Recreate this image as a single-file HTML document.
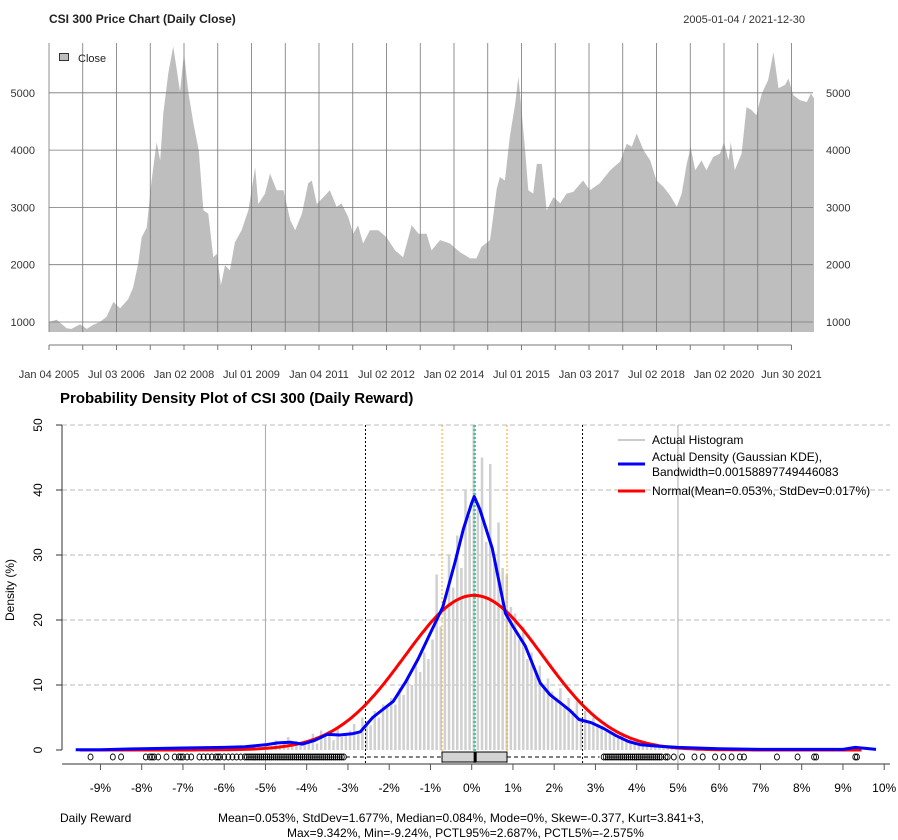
<!DOCTYPE html>
<html><head><meta charset="utf-8"><style>
body{margin:0;background:#fff;}
svg{display:block;font-family:"Liberation Sans",Arial,sans-serif;}
</style></head><body>
<svg id="c" width="898" height="840" viewBox="0 0 898 840">
<text x="49" y="23" font-size="12" font-weight="bold" fill="#222">CSI 300 Price Chart (Daily Close)</text>
<text x="805" y="23" font-size="11" fill="#333" text-anchor="end">2005-01-04 / 2021-12-30</text>
<g id="topg"></g>
<text x="60" y="403" font-size="15" font-weight="bold" fill="#000">Probability Density Plot of CSI 300 (Daily Reward)</text>
<g id="botg"></g>
<text x="14" y="590" font-size="12" transform="rotate(-90 14 590)" text-anchor="middle">Density (%)</text>
<text x="60" y="822" font-size="12">Daily Reward</text>
<text x="218" y="822" font-size="12">Mean=0.053%, StdDev=1.677%, Median=0.084%, Mode=0%, Skew=-0.377, Kurt=3.841+3,</text>
<text x="287" y="837" font-size="12">Max=9.342%, Min=-9.24%, PCTL95%=2.687%, PCTL5%=-2.575%</text>
</svg>
<script>
const NS="http://www.w3.org/2000/svg";
// ---- price data ----
const priceYears=[2005.0,2005.17,2005.39,2005.5,2005.69,2005.84,2005.98,2006.13,2006.28,2006.43,2006.58,2006.76,2006.87,2006.98,2007.06,2007.17,2007.28,2007.39,2007.47,2007.54,2007.65,2007.76,2007.84,2007.91,2008.0,2008.1,2008.21,2008.33,2008.43,2008.54,2008.65,2008.73,2008.82,2008.91,2009.02,2009.13,2009.28,2009.43,2009.58,2009.65,2009.8,2009.91,2010.06,2010.21,2010.36,2010.47,2010.62,2010.76,2010.84,2010.95,2011.1,2011.24,2011.39,2011.5,2011.65,2011.76,2011.87,2011.98,2012.13,2012.32,2012.5,2012.69,2012.87,2013.06,2013.21,2013.39,2013.5,2013.69,2013.91,2014.13,2014.36,2014.5,2014.61,2014.8,2014.87,2014.95,2015.02,2015.13,2015.24,2015.36,2015.43,2015.5,2015.58,2015.65,2015.76,2015.84,2015.95,2016.06,2016.21,2016.36,2016.5,2016.65,2016.87,2017.02,2017.24,2017.47,2017.69,2017.84,2017.95,2018.06,2018.21,2018.36,2018.5,2018.65,2018.8,2018.95,2019.06,2019.17,2019.26,2019.36,2019.5,2019.61,2019.76,2019.91,2020.0,2020.1,2020.15,2020.24,2020.39,2020.5,2020.61,2020.72,2020.84,2020.98,2021.1,2021.21,2021.36,2021.43,2021.54,2021.69,2021.84,2021.93,2022.0];
const priceClose=[1000,1040,890,880,960,880,950,1000,1090,1350,1240,1400,1600,2010,2480,2650,3470,4140,3820,4640,5340,5810,5400,5020,5690,4990,4460,3990,2950,2890,2130,2190,1640,1990,1900,2390,2600,2950,3700,3060,3240,3590,3300,3300,2780,2600,2890,3420,3470,3060,3180,3300,3010,3070,2830,2540,2690,2370,2600,2600,2480,2250,2130,2690,2540,2540,2250,2430,2370,2220,2110,2110,2310,2430,2830,3330,3530,3470,4230,4810,5280,4700,4000,3300,3240,3760,3760,2950,3180,3070,3240,3270,3470,3300,3420,3650,3800,4110,4060,4290,4000,3820,3470,3360,3210,3010,3240,3760,4050,3650,3820,3650,3880,3940,4140,3820,4140,3650,3940,4750,4700,4610,4990,5220,5710,5080,5140,5250,4960,4870,4840,4990,4900];
const priceTicks=[1000,2000,3000,4000,5000];
const dateTickYears=[2005.0,2005.75,2006.5,2007.25,2008.0,2008.75,2009.5,2010.25,2011.0,2011.75,2012.5,2013.25,2014.0,2014.75,2015.5,2016.25,2017.0,2017.75,2018.5,2019.25,2020.0,2020.75,2021.5];
const dateTickLabels=["Jan 04 2005","","Jul 03 2006","","Jan 02 2008","","Jul 01 2009","","Jan 04 2011","","Jul 02 2012","","Jan 02 2014","","Jul 01 2015","","Jan 03 2017","","Jul 02 2018","","Jan 02 2020","","Jun 30 2021"];

const tx=t=>49+(t-2005)*45;
const ty=v=>322-(v-1000)*0.0573;
function mk(tag,attrs,parent){const e=document.createElementNS(NS,tag);for(const k in attrs)e.setAttribute(k,attrs[k]);parent.appendChild(e);return e;}
const topG=document.getElementById('topg');
let d="M"+tx(priceYears[0])+",332";
priceYears.forEach((t,i)=>{d+=" L"+tx(t).toFixed(1)+","+ty(priceClose[i]).toFixed(1);});
d+=" L"+tx(priceYears[priceYears.length-1])+",332 Z";
const area=mk('path',{d:d,fill:'#bebebe'},topG);


priceTicks.forEach(v=>{
  const l=mk('line',{x1:49,x2:813,y1:ty(v),y2:ty(v),stroke:'#777','stroke-width':0.8},topG);
  
  
  const a=mk('text',{x:35,y:ty(v)+4,'font-size':11,'text-anchor':'end',fill:'#333'},topG);a.textContent=v;
  
  
  const b=mk('text',{x:826,y:ty(v)+4,'font-size':11,fill:'#333'},topG);b.textContent=v;
  
  
});
mk('line',{x1:49,x2:tx(2021.5),y1:345,y2:345,stroke:'#777','stroke-width':1},topG);
dateTickYears.forEach((t,i)=>{
  const x=tx(t);
  const g=mk('line',{x1:x,x2:x,y1:43,y2:332,stroke:'#777','stroke-width':0.8},topG);
  
  
  mk('line',{x1:x,x2:x,y1:345,y2:350,stroke:'#777'},topG);
  if(dateTickLabels[i]){const e=mk('text',{x:x,y:378,'font-size':11,'text-anchor':'middle',fill:'#333'},topG);e.textContent=dateTickLabels[i];
  
  }
});
const lg=mk('rect',{x:59.5,y:53.5,width:9,height:7,fill:'#bebebe',stroke:'#333'},topG);


const lt=mk('text',{x:78,y:62,'font-size':11,fill:'#222'},topG);lt.textContent="Close";



// ---- density data ----
const histStart=-5.0, histBin=0.1;
const histValues=[1,0.5,1.5,0.8,1.2,2,0.6,1.4,1,0.8, 1.5,2.5,1,3,2,2.8,1.5,3.5,2,2.5, 3,4,2.5,5,4.5,3.8,6,5,7,6.5, 8,7,9.5,8.5,11,10,13,12,15,14, 17,27,19,22,30,25,33,28,40,36, 50,38,45,32,44,30,35,28,27,22, 21,17,19,14,15,12,13,10,11,9, 8,9.5,7,8,6,7.5,5,6,4.5,5, 4,3.5,2.8,3,2.5,2,2.2,1.5,1.8,1.2, 1,1.3,0.8,0.9,0.5,0.7,0.4,0.6,0.3,0.5];
const kdeX=[-9.6,-9,-8,-7,-6,-5.5,-5,-4.7,-4.4,-4.1,-3.8,-3.5,-3.2,-2.9,-2.7,-2.4,-2.2,-1.9,-1.6,-1.3,-1.0,-0.7,-0.4,-0.2,0,0.06,0.2,0.5,0.82,1.0,1.3,1.66,1.9,2.2,2.38,2.6,2.9,3.2,3.5,3.8,4.1,4.5,5,6,7,8,9,9.3,9.8];
const kdeY=[0.05,0.05,0.2,0.3,0.4,0.5,0.8,1.1,1.2,0.9,1.5,2.4,2.3,2.5,2.8,5,6,7.5,10.5,14,18,22,29,34,38,39,37,31,21,19,16,10.3,8.5,7,6.1,4.7,4.2,3.3,2.2,1.3,0.8,0.6,0.4,0.2,0.1,0.1,0.1,0.4,0.1];
const normMean=[0.053], normSd=[1.677];
const outliersLow=[-9.24,-8.7,-8.5,-7.9,-7.8,-7.75,-7.7,-7.6,-7.4,-7.2,-7.1,-7.05,-7.0,-6.9,-6.8,-6.6,-6.5,-6.4,-6.3,-6.2,-6.15,-6.1,-6.0,-5.9,-5.8,-5.7,-5.6,-5.5,-5.45,-5.4,-5.35,-5.3,-5.25,-5.2,-5.15,-5.1,-5.05,-5.0,-4.95,-4.9,-4.85,-4.8,-4.75,-4.7,-4.65,-4.6,-4.55,-4.5,-4.45,-4.4,-4.35,-4.3,-4.25,-4.2,-4.15,-4.1,-4.05,-4.0,-3.95,-3.9,-3.85,-3.8,-3.75,-3.7,-3.65,-3.6,-3.55,-3.5,-3.45,-3.4,-3.35,-3.3,-3.25,-3.2,-3.15,-3.1];
const outliersHigh=[3.2,3.25,3.3,3.35,3.4,3.45,3.5,3.55,3.6,3.65,3.7,3.75,3.8,3.85,3.9,3.95,4.0,4.05,4.1,4.15,4.2,4.25,4.3,4.35,4.4,4.45,4.5,4.55,4.6,4.7,4.75,4.9,5.1,5.4,5.6,5.9,6.1,6.3,6.5,6.6,7.4,7.9,8.3,8.35,9.3,9.34];
const boxStats=[-9.24,-0.72,0.084,0.856,9.342];
const whiskers=[-3.05,3.1];
const xTicks=[-9,-8,-7,-6,-5,-4,-3,-2,-1,0,1,2,3,4,5,6,7,8,9,10];
const yTicks=[0,10,20,30,40,50];
const refLines=[-2.575,2.687];

const px=v=>471.7+v*41.25;
const py=v=>750-v*6.5;
const botG=document.getElementById('botg');
yTicks.forEach(v=>{
  if(v>0){const g=mk('line',{x1:62,x2:890,y1:py(v),y2:py(v),stroke:'#bbb','stroke-dasharray':'5,3'},botG);
  
  }
  mk('line',{x1:56,x2:62,y1:py(v),y2:py(v),stroke:'#333'},botG);
  const t=mk('text',{x:42,y:py(v),'font-size':12,transform:`rotate(-90 42 ${py(v)})`,'text-anchor':'middle'},botG);t.textContent=v;
  
  
});
mk('line',{x1:62,x2:62,y1:py(50),y2:py(0),stroke:'#333'},botG);
[-5,5].forEach(v=>{const l=mk('line',{x1:px(v),x2:px(v),y1:425,y2:763,stroke:'#aaa'},botG);
  
  });
histValues.forEach((h,i)=>{
  const x=px(histStart+histBin*(i+0.5));
  const b=mk('line',{x1:x,x2:x,y1:py(0),y2:py(h),stroke:'#d0d0d0','stroke-width':2.5},botG);
  
  
});
refLines.forEach(v=>{const l=mk('line',{x1:px(v),x2:px(v),y1:425,y2:763,stroke:'#000','stroke-dasharray':'2,2'},botG);
  
  });
[boxStats[1],boxStats[3]].forEach(v=>{const l=mk('line',{x1:px(v),x2:px(v),y1:425,y2:763,stroke:'#ffa500','stroke-dasharray':'2,2'},botG);
  
  });
const ml=mk('line',{x1:px(normMean[0]),x2:px(normMean[0]),y1:425,y2:763,stroke:'#00bfff','stroke-dasharray':'2,2'},botG);


const md=mk('line',{x1:px(boxStats[2]),x2:px(boxStats[2]),y1:425,y2:763,stroke:'#00c000','stroke-dasharray':'2,2'},botG);


let nd="";
for(let x=-9.5;x<=9.5;x+=0.05){const m=normMean[0],s=normSd[0];const y=100*Math.exp(-0.5*((x-m)/s)**2)/(s*Math.sqrt(2*Math.PI));nd+=(nd?" L":"M")+px(x).toFixed(1)+","+py(y).toFixed(1);}
const nl=mk('path',{d:nd,fill:'none',stroke:'#f00','stroke-width':3},botG);


let kd="";kdeX.forEach((x,i)=>{kd+=(i?" L":"M")+px(x).toFixed(1)+","+py(kdeY[i]).toFixed(1);});
const kl=mk('path',{d:kd,fill:'none',stroke:'#00f','stroke-width':3,'stroke-linejoin':'round'},botG);


const by=757;
mk('line',{x1:px(whiskers[0]),x2:px(boxStats[1]),y1:by,y2:by,stroke:'#000','stroke-dasharray':'4,3'},botG);
mk('line',{x1:px(boxStats[3]),x2:px(whiskers[1]),y1:by,y2:by,stroke:'#000','stroke-dasharray':'4,3'},botG);
const bx=mk('rect',{x:px(boxStats[1]),y:752,width:px(boxStats[3])-px(boxStats[1]),height:10,fill:'#d3d3d3',stroke:'#000'},botG);


mk('line',{x1:px(boxStats[2]),x2:px(boxStats[2]),y1:752,y2:762,stroke:'#000','stroke-width':3},botG);
outliersLow.concat(outliersHigh).forEach(v=>{const c=mk('ellipse',{cx:px(v),cy:by,rx:2.5,ry:3,fill:'none',stroke:'#000','stroke-width':0.9},botG);
  
  });
mk('line',{x1:62,x2:890,y1:764,y2:764,stroke:'#999','stroke-width':2},botG);
xTicks.forEach(v=>{mk('line',{x1:px(v),x2:px(v),y1:764,y2:770,stroke:'#555'},botG);
  const t=mk('text',{x:px(v),y:792,'font-size':12,'text-anchor':'middle'},botG);t.textContent=v+"%";
  
  });
const L=[[440,440,'#999',1,'Actual Histogram'],[464,457,'#00f',3,'Actual Density (Gaussian KDE),'],[491,491,'#f00',3,'Normal(Mean=0.053%, StdDev=0.017%)']];
L.forEach(r=>{const l=mk('line',{x1:618,x2:645,y1:r[0],y2:r[0],stroke:r[2],'stroke-width':r[3]},botG);
  
  
  const t=mk('text',{x:652,y:r[1]+4,'font-size':12},botG);t.textContent=r[4];
  
  });
const t2=mk('text',{x:652,y:476,'font-size':12},botG);t2.textContent="Bandwidth=0.00158897749446083";


</script>
</body></html>
